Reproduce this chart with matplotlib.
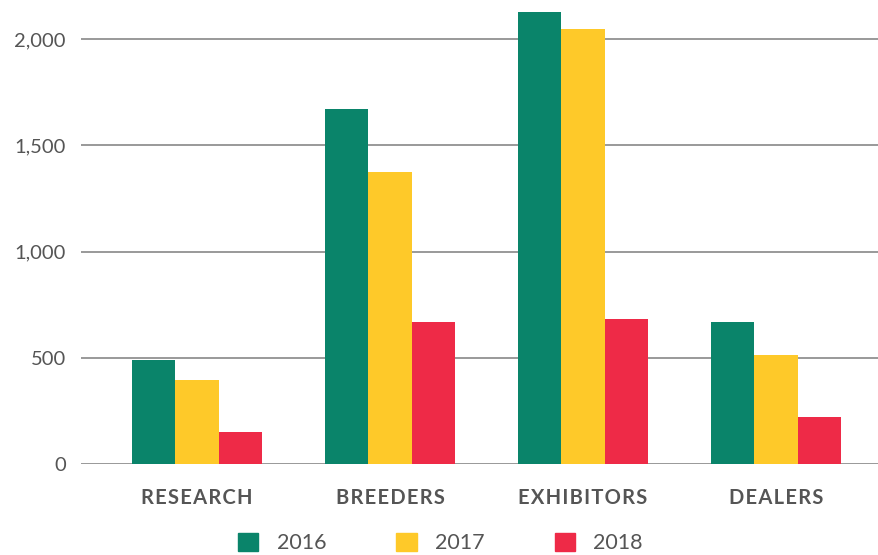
import numpy as np
import matplotlib.pyplot as plt
from matplotlib.patches import Patch

categories = ['RESEARCH', 'BREEDERS', 'EXHIBITORS', 'DEALERS']
years = ['2016', '2017', '2018']
values_2016 = [489, 1671, 2127, 668]
values_2017 = [395, 1374, 2047, 513]
values_2018 = [151, 668, 682, 221]
colors = ['#0A846A', '#FEC929', '#EE2A47']

plt.rcParams['font.family'] = ['Lato', 'DejaVu Sans']

fig = plt.figure(figsize=(8.79, 5.55), dpi=100)
ax = fig.add_axes([81 / 879, (555 - 464) / 555, 1 - 81 / 879, 464 / 555])

x = np.arange(len(categories))
width = 0.224
for i, (vals, col) in enumerate(zip([values_2016, values_2017, values_2018], colors)):
    ax.bar(x + (i - 1) * width, vals, width, color=col, label=years[i], zorder=3)

ax.set_xlim(-0.601, 3.534)
ax.set_ylim(0, 2184)
ax.set_yticks([0, 500, 1000, 1500, 2000])
ax.set_yticklabels(['0', '500', '1,000', '1,500', '2,000'])
ax.yaxis.grid(True, color='#999999', linewidth=1.4, zorder=0)
ax.set_axisbelow(True)
for s in ax.spines.values():
    s.set_visible(False)
ax.tick_params(axis='y', length=0, pad=11, labelsize=14.5, labelcolor='#555555')

# hair spaces for the letter-spaced category labels
spaced = ['\u200a'.join(c) for c in categories]
ax.set_xticks(x)
ax.set_xticklabels(spaced, fontweight='bold', fontsize=14.5, color='#555555')
ax.tick_params(axis='x', length=0, pad=17)

handles = [Patch(color=c, label=y) for c, y in zip(colors, years)]
fig.legend(handles=handles, loc='center', bbox_to_anchor=(0.501, 0.0216), ncol=3,
           frameon=False, fontsize=15.5, handlelength=0.95, handleheight=0.95,
           handletextpad=0.85, columnspacing=3.25, labelcolor='#555555')

fig.savefig('out.png', dpi=100)
